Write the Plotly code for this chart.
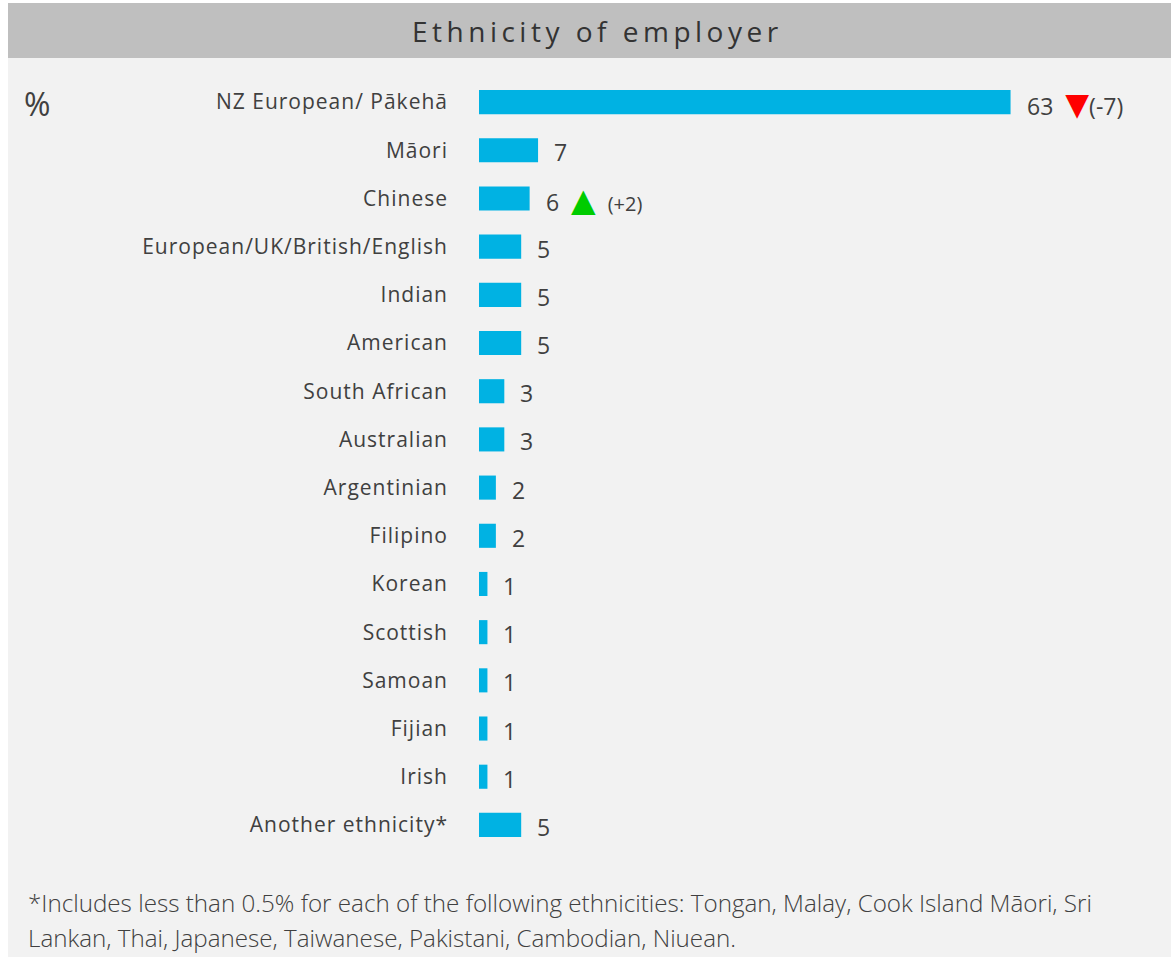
import plotly.graph_objects as go

categories = ["NZ European/ Pākehā", "Māori", "Chinese", "European/UK/British/English",
              "Indian", "American", "South African", "Australian", "Argentinian",
              "Filipino", "Korean", "Scottish", "Samoan", "Fijian", "Irish",
              "Another ethnicity*"]
values = [63, 7, 6, 5, 5, 5, 3, 3, 2, 2, 1, 1, 1, 1, 1, 5]
changes = [-7, None, 2, None, None, None, None, None, None, None, None, None, None, None, None, None]

title_text = "Ethnicity of employer"
footnote_lines = [
    "*Includes less than 0.5% for each of the following ethnicities: Tongan, Malay, Cook Island Māori, Sri",
    "Lankan, Thai, Japanese, Taiwanese, Pakistani, Cambodian, Niuean.",
]

W, H = 1171, 957
ML, MR, MT, MB = 479, 17, 78, 108
PW, PH = W - ML - MR, H - MT - MB
XMAX = 80

def px_x(p):
    return (p - ML) / PW

def px_y(p):
    return 1 - (p - MT) / PH

BAR = "#00b2e3"
TXT = "#404040"
FONT = "Open Sans"

fig = go.Figure(go.Bar(
    x=values, y=categories, orientation="h",
    marker=dict(color=BAR, line=dict(width=0)),
    width=0.5, hoverinfo="skip",
))

shapes = [
    dict(type="rect", xref="paper", yref="paper", x0=px_x(8), x1=px_x(W), y0=px_y(H), y1=px_y(3),
         fillcolor="#f2f2f2", line=dict(width=0), layer="below"),
    dict(type="rect", xref="paper", yref="paper", x0=px_x(8), x1=px_x(W), y0=px_y(58), y1=px_y(3),
         fillcolor="#bfbfbf", line=dict(width=0), layer="below"),
]

annotations = [
    dict(text=f"<span style='letter-spacing:4.5px'>{title_text}</span>", xref="paper", yref="paper",
         x=px_x(597), y=px_y(31),
         xanchor="center", yanchor="middle", showarrow=False,
         font=dict(family=FONT, size=28, color="#333333")),
    dict(text="%", xref="paper", yref="paper", x=px_x(22), y=px_y(103),
         xanchor="left", yanchor="middle", showarrow=False,
         font=dict(family=FONT, size=32, color=TXT)),
]

for cat, v, ch in zip(categories, values, changes):
    txt = f"{v}"
    if ch is not None:
        if ch < 0:
            txt += (f"  <span style='color:#ff0000;font-size:31px;font-family:DejaVu Sans'>▼</span>"
                    f"<span style='font-size:23px'>({ch})</span>")
        else:
            txt += (f"  <span style='color:#00cc00;font-size:32px;font-family:DejaVu Sans'>▲</span>  "
                    f"<span style='font-size:20px'>(+{ch})</span>")
    annotations.append(dict(
        text=txt, x=v, y=cat, xref="x", yref="y", xanchor="left", yanchor="middle",
        xshift=14, yshift=-2, showarrow=False,
        font=dict(family=FONT, size=23, color=TXT),
    ))

for i, line in enumerate(footnote_lines):
    annotations.append(dict(
        text=line, xref="paper", yref="paper", x=px_x(26), y=px_y(902 + 35 * i),
        xanchor="left", yanchor="middle", showarrow=False,
        font=dict(family=FONT, size=24.2, color=TXT, weight=300),
    ))

fig.update_layout(
    width=W, height=H,
    margin=dict(l=ML, r=MR, t=MT, b=MB, pad=0),
    paper_bgcolor="white", plot_bgcolor="rgba(0,0,0,0)",
    showlegend=False,
    shapes=shapes, annotations=annotations,
    xaxis=dict(range=[0, XMAX], visible=False, fixedrange=True),
    yaxis=dict(autorange="reversed", showgrid=False, zeroline=False, showline=False,
               ticks="", ticklabelstandoff=30, fixedrange=True,
               tickvals=categories,
               ticktext=[f"<span style='letter-spacing:1px'>{c}</span>" for c in categories],
               tickfont=dict(family=FONT, size=21, color=TXT)),
    bargap=0.5,
)

fig.write_html("out.html", config={"displayModeBar": False},
               post_script="document.body.style.margin='0px';")
